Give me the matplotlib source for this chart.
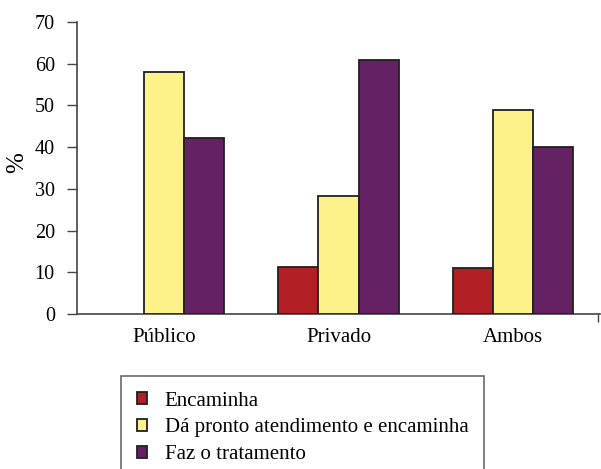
import matplotlib.pyplot as plt
import numpy as np

categories = ['Público', 'Privado', 'Ambos']
series = ['Encaminha', 'Dá pronto atendimento e encaminha', 'Faz o tratamento']
encaminha = [0, 11.3, 11.0]
pronto = [58.0, 28.2, 48.9]
tratamento = [42.1, 60.9, 40.0]
yticks = [0, 10, 20, 30, 40, 50, 60, 70]

colors = ['#B22025', '#FDF18A', '#642265']

plt.rcParams['font.family'] = ['Liberation Serif', 'DejaVu Serif']

fig = plt.figure(figsize=(6.01, 4.69), dpi=100)
ax = fig.add_axes([77 / 601, 1 - 314 / 469, 523 / 601, 292 / 469])

x = np.arange(len(categories))
w = 0.23
handles = []
for i, (vals, c) in enumerate(zip([encaminha, pronto, tratamento], colors)):
    v = np.array(vals, dtype=float)
    keep = v > 0
    b = ax.bar(x[keep] + (i - 1) * w, v[keep], width=w, color=c,
               edgecolor='#231F20', linewidth=1.3, label=series[i], zorder=3)
    handles.append(b)

ax.set_xlim(-0.5, 2.5)
ax.set_ylim(0, 70)
ax.set_yticks(yticks)
ax.set_xticks(x)
ax.set_xticklabels(categories)
# small tick at the right end of the category axis
ax.set_xticks([2.49], minor=True)
ax.tick_params(axis='x', which='minor', length=6, width=1, color='#444444')
ax.tick_params(axis='y', labelsize=14.5, length=7, width=1, color='#444444', pad=9)
ax.tick_params(axis='x', which='major', labelsize=15, length=0, pad=10)
ax.set_ylabel('%', fontsize=18, va='center')
ax.yaxis.set_label_coords(-60 / 523, 0.52)
for s in ['top', 'right']:
    ax.spines[s].set_visible(False)
for s in ['left', 'bottom']:
    ax.spines[s].set_color('#444444')
    ax.spines[s].set_linewidth(1.2)

leg = fig.legend(handles=handles, labels=series, loc='upper left',
                 bbox_to_anchor=(121 / 601, 1 - 376 / 469), fontsize=15,
                 handlelength=0.5, handleheight=0.5, handletextpad=0.85,
                 labelspacing=0.37, borderpad=0.75, borderaxespad=0,
                 fancybox=False, frameon=True)
leg.get_frame().set_edgecolor('#444444')
leg.get_frame().set_linewidth(1.2)

fig.savefig('out.png', dpi=100)
